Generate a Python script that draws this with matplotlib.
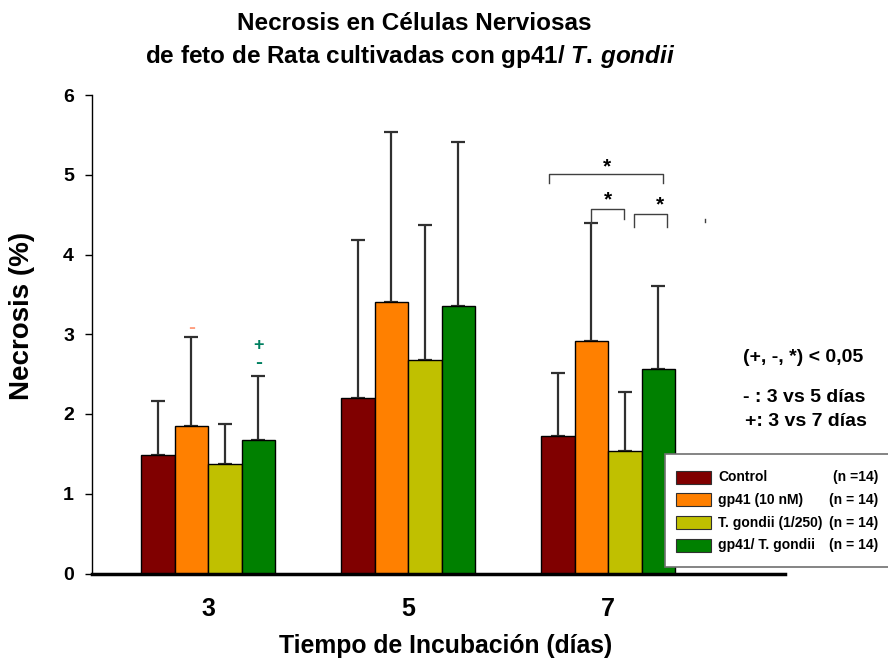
import numpy as np
import matplotlib.pyplot as plt
from matplotlib.patches import Rectangle

plt.rcParams['font.family'] = ['Liberation Sans', 'DejaVu Sans']
plt.rcParams['font.weight'] = 'bold'
plt.rcParams['mathtext.fontset'] = 'custom'
plt.rcParams['mathtext.rm'] = 'Liberation Sans:bold'
plt.rcParams['mathtext.it'] = 'Liberation Sans:italic:bold'

# Incubation time (days) and groups
days = ['3', '5', '7']
groups = ['Control', 'gp41 (10 nM)', 'T. gondii (1/250)', 'gp41/ T. gondii']
n_labels = ['(n =14)', '(n = 14)', '(n = 14)', '(n = 14)']
colors = ['#800000', '#ff8000', '#c0c000', '#008000']

# Mean necrosis (%) and upper error (mean + SD) per group, by day
means = {
    'Control':           [1.49, 2.20, 1.73],
    'gp41 (10 nM)':      [1.85, 3.41, 2.91],
    'T. gondii (1/250)': [1.37, 2.68, 1.54],
    'gp41/ T. gondii':   [1.67, 3.36, 2.56],
}
tops = {
    'Control':           [2.16, 4.18, 2.52],
    'gp41 (10 nM)':      [2.96, 5.53, 4.40],
    'T. gondii (1/250)': [1.88, 4.37, 2.27],
    'gp41/ T. gondii':   [2.48, 5.41, 3.60],
}

W, H = 888, 671
fig = plt.figure(figsize=(W / 100, H / 100), dpi=100)
ax = fig.add_axes([92 / W, 1 - 573.5 / H, (785 - 92) / W, (573.5 - 95) / H])

x = np.arange(len(days))
bw = 0.1675
for i, g in enumerate(groups):
    pos = x + (i - 1.5) * bw
    m = np.array(means[g])
    err = np.array(tops[g]) - m
    ax.bar(pos, m, width=bw, color=colors[i], edgecolor='black', linewidth=1, zorder=2)
    ax.errorbar(pos, m, yerr=[np.zeros_like(err), err], fmt='none', ecolor='#303030',
                elinewidth=1.6, capsize=4.7, capthick=1.6, zorder=1)

ax.set_xlim(-0.58, 2.885)
ax.set_ylim(0, 6)
ax.set_yticks(range(7))
ax.set_xticks(x)
ax.set_xticklabels(days, fontsize=18, fontweight='bold')
ax.tick_params(axis='x', length=0, pad=17)
ax.tick_params(axis='y', length=5, width=1, pad=8, labelsize=14, direction='out')
for s in ['top', 'right']:
    ax.spines[s].set_visible(False)
ax.spines['left'].set_linewidth(1)
ax.spines['bottom'].set_linewidth(2.5)

# significance marks at day 3
ax.text(x[0] - 0.5 * bw, 3.09, '-', color='#ff9f80', ha='center', va='center',
        fontsize=15, fontweight='bold')
ax.text(x[0] + 1.5 * bw, 2.86, '+', color='#008060', ha='center', va='center',
        fontsize=13, fontweight='bold')
ax.text(x[0] + 1.5 * bw, 2.64, '-', color='#008060', ha='center', va='center',
        fontsize=15, fontweight='bold')

# comparison brackets at day 7
def bracket(x0, x1, y, yl, yr, ys, xs):
    ax.plot([x0, x0, x1, x1], [yl, y, y, yr], color='#404040', lw=1, zorder=3)
    ax.text(xs, ys, '*', ha='center', va='center', fontsize=15, fontweight='bold')

bracket(1.705, 2.275, 5.01, 4.90, 4.90, 5.10, 1.995)
bracket(1.915, 2.08, 4.57, 4.40, 4.45, 4.68, 2.0)
bracket(2.13, 2.295, 4.51, 4.34, 4.34, 4.62, 2.26)
ax.plot([2.485, 2.485], [4.41, 4.44], color='#404040', lw=1)

# titles and axis labels
fig.text(414 / W, 1 - 23 / H, 'Necrosis en Células Nerviosas', ha='center', va='center',
         fontsize=17.5, fontweight='bold')
fig.text(410 / W, 1 - 57 / H, 'de feto de Rata cultivadas con gp41/ $\\it{T.\\,gondii}$',
         ha='center', va='center', fontsize=17.5, fontweight='bold')
fig.text(446 / W, 1 - 646 / H, 'Tiempo de Incubación (días)', ha='center', va='center',
         fontsize=17.8, fontweight='bold')
fig.text(22 / W, 1 - 316 / H, 'Necrosis (%)', ha='center', va='center', rotation=90,
         fontsize=20, fontweight='bold')

# significance notes
fig.text(743 / W, 1 - 357 / H, '(+, -, *) < 0,05', ha='left', va='center', fontsize=14, fontweight='bold')
fig.text(743 / W, 1 - 397 / H, '- : 3 vs 5 días', ha='left', va='center', fontsize=14, fontweight='bold')
fig.text(745 / W, 1 - 422 / H, '+: 3 vs 7 días', ha='left', va='center', fontsize=14, fontweight='bold')

# legend box
fig.patches.append(Rectangle((665 / W, 1 - 567 / H), 230 / W, 113 / H, transform=fig.transFigure,
                             facecolor='white', edgecolor='#707070', lw=1.2, zorder=5))
for i, g in enumerate(groups):
    yc = 1 - (477 + i * 22.8) / H
    fig.patches.append(Rectangle((676 / W, yc - 6.5 / H), 35 / W, 13 / H, transform=fig.transFigure,
                                 facecolor=colors[i], edgecolor='#303030', lw=0.8, zorder=6))
    fig.text(718 / W, yc, g, ha='left', va='center', fontsize=10, fontweight='bold', zorder=7)
    fig.text(878 / W, yc, n_labels[i], ha='right', va='center', fontsize=10, fontweight='bold', zorder=7)

fig.savefig('out.png', dpi=100)
